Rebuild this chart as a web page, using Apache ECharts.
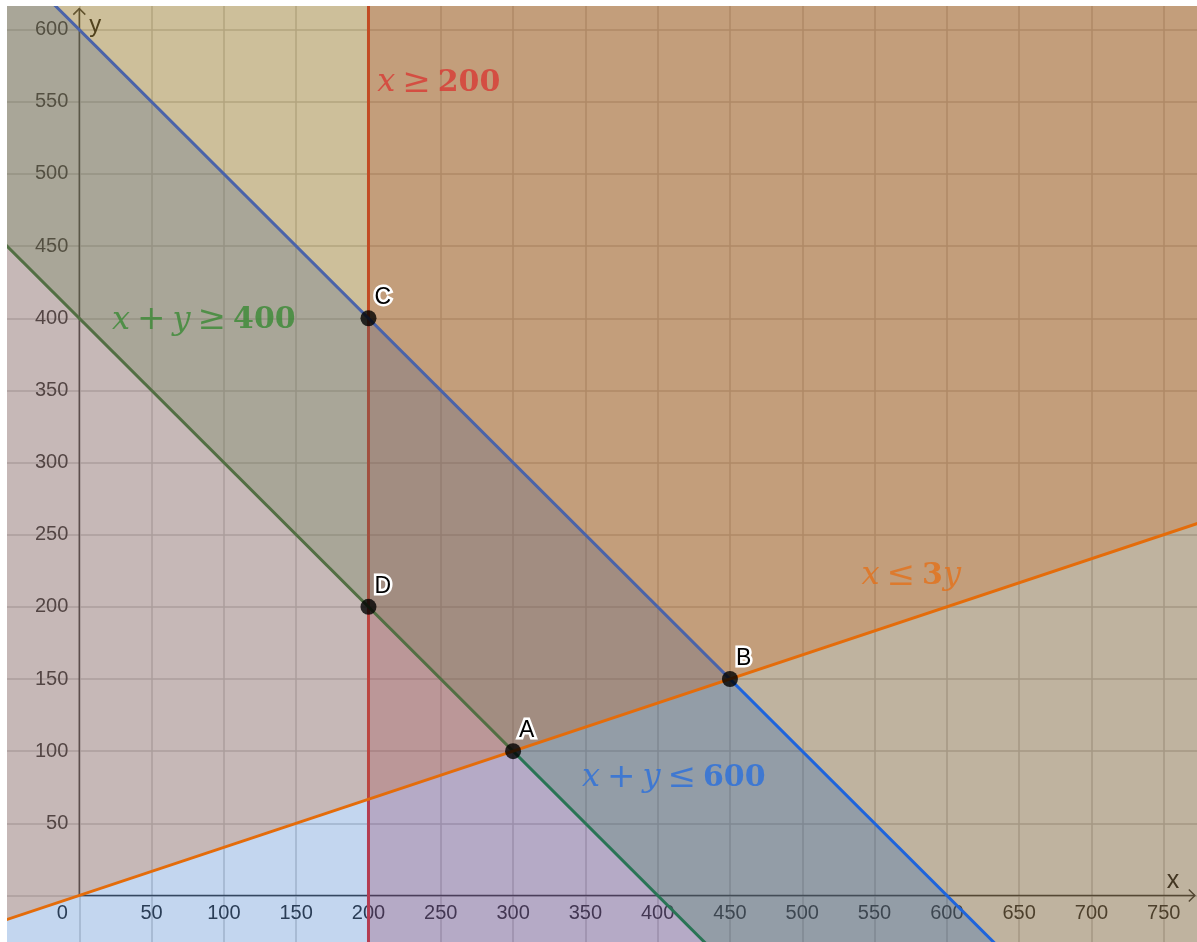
<!DOCTYPE html>
<html><head><meta charset="utf-8">
<script src="https://cdn.jsdelivr.net/npm/echarts@6/dist/echarts.min.js"></script>
<style>html,body{margin:0;padding:0;background:#fff}#c{width:1197px;height:942px}</style>
</head><body><div id="c"></div>
<script>
// ---- data ----
const tickStep = 50;
const xRange = [-50, 773];
const yRange = [-50, 616.4];

// half-plane of each constraint (vertices in data units; clipped by the grid)
const regionR = [[200,-200],[1000,-200],[1000,800],[200,800]];              // x >= 200
const regionG = [[-200,600],[600,-200],[1000,-200],[1000,800],[-200,800]];  // x + y >= 400
const regionB = [[-200,-200],[800,-200],[-200,800]];                        // x + y <= 600
const regionO = [[-200,-66.67],[1000,333.33],[1000,800],[-200,800]];        // x <= 3y
const boundaryR = [[200,-200],[200,800]];
const boundaryG = [[-200,600],[600,-200]];
const boundaryB = [[-200,800],[800,-200]];
const boundaryO = [[-200,-66.67],[1000,333.33]];

// positive half-axes (rays from the origin)
const axisRayX = [[0,0],[771.5,0]];
const axisRayY = [[0,0],[0,614.6]];

const pointNames = ['A','B','C','D'];
const pointX = [300, 450, 200, 200];
const pointY = [100, 150, 400, 200];

const labelTexts = [
  '{v|x}{s| }{o|≥}{s| }{n|200}',
  '{v|x}{s| }{o|+}{s| }{v|y}{s| }{o|≥}{s| }{n|400}',
  '{v|x}{s| }{o|≤}{s| }{n|3}{v|y}',
  '{v|x}{s| }{o|+}{s| }{v|y}{s| }{o|≤}{s| }{n|600}'
];
const labelX = [206, 22.6, 541, 347.6];
const labelY = [563, 398.5, 221.5, 81.5];
const labelColors = ['#d83a34', '#3a8a34', '#e3701a', '#2a6fdc'];

// ---- layout ----
const W = 1197, H = 942;
const gridLeft = 7, gridTop = 6, gridRight = 0, gridBottom = -25.6;
const gridW = W - gridLeft - gridRight, gridH = H - gridTop - gridBottom;
const xOffset = -(0 - xRange[0]) * gridW / (xRange[1] - xRange[0]);
const yOffset = -(0 - yRange[0]) * gridH / (yRange[1] - yRange[0]);

// ---- chart ----
const chart = echarts.init(document.getElementById('c'), null, {renderer:'canvas'});

function regionSeries(name, poly, edge, fill, stroke){
  return {
    name, type:'custom', clip:true, z:2, silent:true,
    data:[[0,0]],
    renderItem:(params, api)=>({
      type:'group',
      children:[
        {type:'polygon', shape:{points: poly.map(p=>api.coord(p))}, style:{fill:fill}},
        {type:'polyline', shape:{points: edge.map(p=>api.coord(p))}, style:{stroke:stroke, lineWidth:3, fill:null}}
      ]
    })
  };
}

const axisColor = '#404040';
const axisSeries = {
  type:'custom', z:1, silent:true, clip:false,
  data:[[0,0]],
  renderItem:(params, api)=>{
    const x0 = api.coord(axisRayX[0]), x1 = api.coord(axisRayX[1]);
    const y0 = api.coord(axisRayY[0]), y1 = api.coord(axisRayY[1]);
    const st = {stroke:axisColor, lineWidth:1.5, fill:null};
    return {type:'group', children:[
      {type:'polyline', shape:{points:[x0, x1]}, style:st},
      {type:'polyline', shape:{points:[[x1[0]-6, x1[1]-6], x1, [x1[0]-6, x1[1]+6]]}, style:st},
      {type:'polyline', shape:{points:[y0, y1]}, style:st},
      {type:'polyline', shape:{points:[[y1[0]-6, y1[1]+6], y1, [y1[0]+6, y1[1]+6]]}, style:st}
    ]};
  }
};

const axisFont = 'Liberation Sans, Arial, sans-serif';

const richFor = (color)=>({
  v:{fontFamily:'DejaVu Serif', fontStyle:'italic', fontSize:32, color, lineHeight:40},
  o:{fontFamily:'DejaVu Serif', fontSize:34, color, lineHeight:40},
  n:{fontFamily:'DejaVu Serif', fontWeight:'bold', fontSize:30, color, lineHeight:40},
  s:{fontFamily:'DejaVu Sans', fontSize:22, color, lineHeight:40}
});

const option = {
  backgroundColor:'#ffffff',
  animation:false,
  grid:{left:gridLeft, top:gridTop, right:gridRight, bottom:gridBottom, containLabel:false, outerBoundsMode:'none'},
  xAxis:{
    type:'value', min:xRange[0], max:xRange[1], interval:tickStep,
    position:'bottom', offset:yOffset,
    axisLine:{show:false, onZero:false},
    axisTick:{show:false},
    axisLabel:{
      fontSize:20, color:'#333', fontFamily:axisFont, margin:8,
      showMinLabel:false, showMaxLabel:false,
      formatter:(v)=>{ if (v === 0) return '{z|0}'; if (v < 0 || v % tickStep !== 0) return ''; return String(v); },
      rich:{z:{fontSize:20, color:'#333', fontFamily:axisFont, padding:[0,34,0,0]}}
    },
    splitLine:{show:true, lineStyle:{color:'#cfcfcf', width:1.5}, showMinLine:false, showMaxLine:false},
    name:'x', nameLocation:'end', nameGap:-24,
    nameTextStyle:{fontSize:25, color:'#222', fontFamily:axisFont, align:'center', verticalAlign:'bottom', padding:[0,0,2,0]}
  },
  yAxis:{
    type:'value', min:yRange[0], max:yRange[1], interval:tickStep,
    position:'left', offset:xOffset,
    axisLine:{show:false, onZero:false},
    axisTick:{show:false},
    axisLabel:{
      fontSize:20, color:'#333', fontFamily:axisFont, margin:11,
      showMinLabel:false, showMaxLabel:false,
      formatter:(v)=>{ if (v <= 0 || v % tickStep !== 0) return ''; return String(v); }
    },
    splitLine:{show:true, lineStyle:{color:'#cfcfcf', width:1.5}, showMinLine:false, showMaxLine:false},
    name:'y', nameLocation:'end', nameGap:-31,
    nameTextStyle:{fontSize:24, color:'#222', fontFamily:axisFont, align:'left', verticalAlign:'bottom', padding:[0,0,0,10]}
  },
  series:[
    axisSeries,
    regionSeries('x ≥ 200', regionR, boundaryR, 'rgba(182,20,36,0.25)', 'rgb(235,50,45)'),
    regionSeries('x + y ≥ 400', regionG, boundaryG, 'rgba(55,127,35,0.25)', 'rgb(50,125,50)'),
    regionSeries('x + y ≤ 600', regionB, boundaryB, 'rgba(15,91,191,0.25)', 'rgb(30,100,220)'),
    regionSeries('x ≤ 3y', regionO, boundaryO, 'rgba(207,94,15,0.25)', 'rgb(228,108,10)'),
    {
      type:'scatter', z:5, silent:true,
      data: pointX.map((x,i)=>[x, pointY[i]]),
      symbol:'circle', symbolSize:16,
      itemStyle:{color:'#000'}
    },
    { // point names: white halo then black letter
      type:'custom', z:7, silent:true, clip:false,
      data: pointX.map((x,i)=>[x, pointY[i]]),
      renderItem:(params, api)=>{
        const c = api.coord([api.value(0), api.value(1)]);
        const name = pointNames[params.dataIndex];
        const base = {text:name, fontSize:23, fontFamily:axisFont, align:'left', verticalAlign:'bottom'};
        return {type:'group', children:[
          {type:'text', x:c[0]+6, y:c[1]-9, style:Object.assign({fill:'#ffffff', stroke:'#ffffff', lineWidth:5}, base)},
          {type:'text', x:c[0]+6, y:c[1]-9, style:Object.assign({fill:'#000000'}, base)}
        ]};
      }
    },
    {
      type:'scatter', z:8, silent:true,
      symbolSize:0,
      data: labelX.map((x,i)=>({
        value:[x, labelY[i]],
        label:{
          show:true, formatter:labelTexts[i], position:[0,0], align:'left', verticalAlign:'middle',
          fontFamily:'DejaVu Serif', fontSize:30, color:labelColors[i],
          rich: richFor(labelColors[i])
        }
      }))
    }
  ]
};
chart.setOption(option);
</script>
</body></html>
